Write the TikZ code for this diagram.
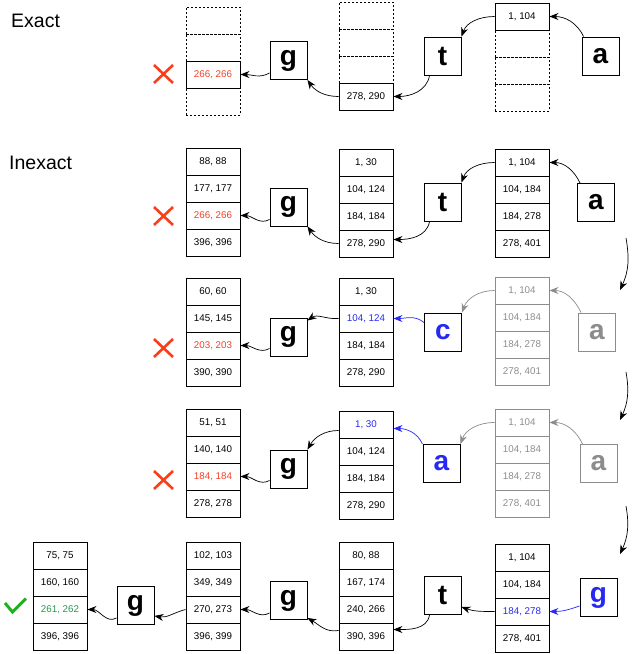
\documentclass[tikz,border=0pt]{standalone}
\usepackage{fontspec}
\setmainfont{Liberation Sans}
\usetikzlibrary{arrows.meta}
\definecolor{xred}{RGB}{250,60,25}
\definecolor{tred}{RGB}{240,65,40}
\definecolor{tblue}{RGB}{40,40,245}
\definecolor{tgray}{RGB}{140,140,140}
\definecolor{tgreen}{RGB}{40,150,80}
\definecolor{cgreen}{RGB}{30,180,30}
\tikzset{
  cell/.style={draw, line width=0.9pt, minimum width=54pt, minimum height=27pt, inner sep=0pt, font=\fontsize{9.8}{11}\selectfont},
  dcell/.style={draw, dash pattern=on 2pt off 2pt, line width=0.6pt, minimum width=54pt, minimum height=27pt, inner sep=0pt},
  gcell/.style={cell, draw=tgray, text=tgray},
  letter/.style={draw, fill=white, line width=0.9pt, minimum width=37pt, minimum height=38pt, inner sep=0pt, font=\fontsize{28}{30}\selectfont\bfseries},
  gletter/.style={letter, draw=tgray, text=tgray},
  bletter/.style={letter, text=tblue},
  conn/.style={line width=0.7pt, -{Stealth[length=9pt,width=7pt]}},
  gconn/.style={conn, draw=tgray},
  bconn/.style={conn, draw=tblue},
  xmark/.style={draw=xred, line width=2.6pt},
  checkm/.style={draw=cgreen, line width=3pt},
  lbl/.style={inner sep=0pt, anchor=west, font=\fontsize{19.5}{22}\selectfont}
}
\begin{document}
\begin{tikzpicture}[x=1pt,y=-1pt]
\useasboundingbox (0,0) rectangle (632,654);

% ---------------- Exact ----------------
\node[lbl] (lexact) at (11,21) {Exact};
\node[dcell] (eB1) at (213,20.5) {};
\node[dcell] (eB2) at (213,47.5) {};
\node[dcell] (eB4) at (213,101.5) {};
\node[cell, text=tred] (eB3) at (213,74.5) {266, 266};
\node[dcell] (eC1) at (366,15.5) {};
\node[dcell] (eC2) at (366,42.5) {};
\node[dcell] (eC3) at (366,69.5) {};
\node[cell] (eC4) at (366,96.5) {278, 290};
\node[dcell] (eD2) at (522,43.5) {};
\node[dcell] (eD3) at (522,70.5) {};
\node[dcell] (eD4) at (522,97.5) {};
\node[cell] (eD1) at (522,16.5) {1, 104};
\node[letter] (eg) at (288.5,60.5) {g};
\node[letter] (et) at (442.5,56) {t};
\node[letter] (ea) at (600.5,56) {a};
\draw[xmark] (154,65) -- (173,83) (154,83) -- (173,65);
\draw[conn] ([xshift=2pt]ea.north west) to[out=115,in=0] (eD1.east);
\draw[conn] (eD1.west) to[out=180,in=70] (et.north east);
\draw[conn] ([xshift=6pt]et.south west) to[out=-100,in=0] (eC4.east);
\draw[conn] (eC4.west) to[out=180,in=-55] (eg.south east);
\draw[conn] ([yshift=7pt]eg.south west) to[out=-150,in=0] (eB3.east);

% ---------------- Inexact row 1 ----------------
\node[lbl] (linexact) at (9,163) {Inexact};
\node[cell] (aB1) at (213,161.5) {88, 88};
\node[cell] (aB2) at (213,188.5) {177, 177};
\node[cell, text=tred] (aB3) at (213,215.5) {266, 266};
\node[cell] (aB4) at (213,242.5) {396, 396};
\node[cell] (aC1) at (366,162.5) {1, 30};
\node[cell] (aC2) at (366,189.5) {104, 124};
\node[cell] (aC3) at (366,216.5) {184, 184};
\node[cell] (aC4) at (366,243.5) {278, 290};
\node[cell] (aD1) at (522,162.5) {1, 104};
\node[cell] (aD2) at (522,189.5) {104, 184};
\node[cell] (aD3) at (522,216.5) {184, 278};
\node[cell] (aD4) at (522,243.5) {278, 401};
\node[letter] (ag) at (288.5,207) {g};
\node[letter] (at) at (442.5,202) {t};
\node[letter] (aa) at (596,202.5) {a};
\draw[xmark] (154,207) -- (173,225) (154,225) -- (173,207);
\draw[conn] ([xshift=3pt]aa.north west) to[out=115,in=0] (aD1.east);
\draw[conn] (aD1.west) to[out=180,in=70] (at.north east);
\draw[conn] ([xshift=6pt]at.south west) to[out=-100,in=0] ([yshift=4pt]aC4.east);
\draw[conn] (aC4.west) to[out=180,in=-55] (ag.south east);
\draw[conn] ([yshift=7pt]ag.south west) to[out=-150,in=0] (aB3.east);

% ---------------- Inexact row 2 ----------------
\node[cell] (bB1) at (213,291.5) {60, 60};
\node[cell] (bB2) at (213,318.5) {145, 145};
\node[cell, text=tred] (bB3) at (213,345.5) {203, 203};
\node[cell] (bB4) at (213,372.5) {390, 390};
\node[cell] (bC1) at (366,291.5) {1, 30};
\node[cell, text=tblue] (bC2) at (366,318.5) {104, 124};
\node[cell] (bC3) at (366,345.5) {184, 184};
\node[cell] (bC4) at (366,372.5) {278, 290};
\node[gcell] (bD1) at (522,290.5) {1, 104};
\node[gcell] (bD2) at (522,317.5) {104, 184};
\node[gcell] (bD3) at (522,344.5) {184, 278};
\node[gcell] (bD4) at (522,371.5) {278, 401};
\node[letter] (bg) at (288.5,337) {g};
\node[bletter] (bc) at (443,332) {c};
\node[gletter] (ba) at (597,332) {a};
\draw[xmark] (154,339) -- (173,357) (154,357) -- (173,339);
\draw[gconn] ([xshift=3pt]ba.north west) to[out=115,in=0] (bD1.east);
\draw[gconn] (bD1.west) to[out=180,in=70] (bc.north east);
\draw[bconn] ([yshift=-10pt]bc.north west) to[out=140,in=0] (bC2.east);
\draw[conn] (bC2.west) to[out=185,in=35] ([yshift=-3pt]bg.north east);
\draw[conn] ([yshift=8pt]bg.south west) to[out=-150,in=0] (bB3.east);

% ---------------- Inexact row 3 ----------------
\node[cell] (cB1) at (213,422.5) {51, 51};
\node[cell] (cB2) at (213,449.5) {140, 140};
\node[cell, text=tred] (cB3) at (213,476.5) {184, 184};
\node[cell] (cB4) at (213,503.5) {278, 278};
\node[cell, text=tblue] (cC1) at (366,424.5) {1, 30};
\node[cell] (cC2) at (366,451.5) {104, 124};
\node[cell] (cC3) at (366,478.5) {184, 184};
\node[cell] (cC4) at (366,505.5) {278, 290};
\node[gcell] (cD1) at (522,422.5) {1, 104};
\node[gcell] (cD2) at (522,449.5) {104, 184};
\node[gcell] (cD3) at (522,476.5) {184, 278};
\node[gcell] (cD4) at (522,503.5) {278, 401};
\node[letter] (cg) at (288.5,469) {g};
\node[bletter] (ca) at (441.5,463.5) {a};
\node[gletter] (ca2) at (598.5,463.5) {a};
\draw[xmark] (154,471) -- (173,489) (154,489) -- (173,471);
\draw[gconn] ([xshift=3pt]ca2.north west) to[out=115,in=0] (cD1.east);
\draw[gconn] (cD1.west) to[out=180,in=70] (ca.north east);
\draw[bconn] (ca.north west) to[out=115,in=0] ([yshift=-4pt]cC1.east);
\draw[conn] ([yshift=-6pt]cC1.west) to[out=180,in=60] (cg.north east);
\draw[conn] ([yshift=8pt]cg.south west) to[out=-150,in=0] (cB3.east);

% ---------------- Inexact row 4 ----------------
\node[cell] (dA1) at (60,555.5) {75, 75};
\node[cell] (dA2) at (60,582.5) {160, 160};
\node[cell, text=tgreen] (dA3) at (60,609.5) {261, 262};
\node[cell] (dA4) at (60,636.5) {396, 396};
\node[cell] (dB1) at (213,555.5) {102, 103};
\node[cell] (dB2) at (213,582.5) {349, 349};
\node[cell] (dB3) at (213,609.5) {270, 273};
\node[cell] (dB4) at (213,636.5) {396, 399};
\node[cell] (dC1) at (366,555.5) {80, 88};
\node[cell] (dC2) at (366,582.5) {167, 174};
\node[cell] (dC3) at (366,609.5) {240, 266};
\node[cell] (dC4) at (366,636.5) {390, 396};
\node[cell] (dD1) at (522,557.5) {1, 104};
\node[cell] (dD2) at (522,584.5) {104, 184};
\node[cell, text=tblue] (dD3) at (522,611.5) {184, 278};
\node[cell] (dD4) at (522,638.5) {278, 401};
\node[letter] (dg1) at (135.5,605.5) {g};
\node[letter] (dg2) at (288.5,600.5) {g};
\node[letter] (dt) at (442.5,595.5) {t};
\node[bletter] (dg3) at (598.5,597.5) {g};
\draw[checkm] (5,603) -- (12.5,612) -- (26,598.5);
\draw[bconn] ([yshift=11pt]dg3.south west) to[out=-160,in=0] (dD3.east);
\draw[conn] (dD3.west) to[out=180,in=-20] ([yshift=8pt]dt.south east);
\draw[conn] ([xshift=6pt]dt.south west) to[out=-100,in=0] ([yshift=7pt]dC4.east);
\draw[conn] ([yshift=6pt]dC4.west) to[out=190,in=-30] ([yshift=2pt]dg2.south east);
\draw[conn] ([yshift=7pt]dg2.south west) to[out=-150,in=0] (dB3.east);
\draw[conn] (dB3.west) to[out=195,in=-10] ([yshift=9pt]dg1.south east);
\draw[conn] ([yshift=7pt]dg1.south west) to[out=-150,in=0] (dA3.east);

% ---------------- step arrows on the right ----------------
\coordinate (s1) at (626,238);
\coordinate (e1) at (620,290);
\coordinate (s2) at (626,372);
\coordinate (e2) at (620,420);
\coordinate (s3) at (626,506);
\coordinate (e3) at (620,554);
\draw[conn] (s1) to[out=-80,in=65] (e1);
\draw[conn] (s2) to[out=-80,in=65] (e2);
\draw[conn] (s3) to[out=-80,in=65] (e3);
\end{tikzpicture}
\end{document}
